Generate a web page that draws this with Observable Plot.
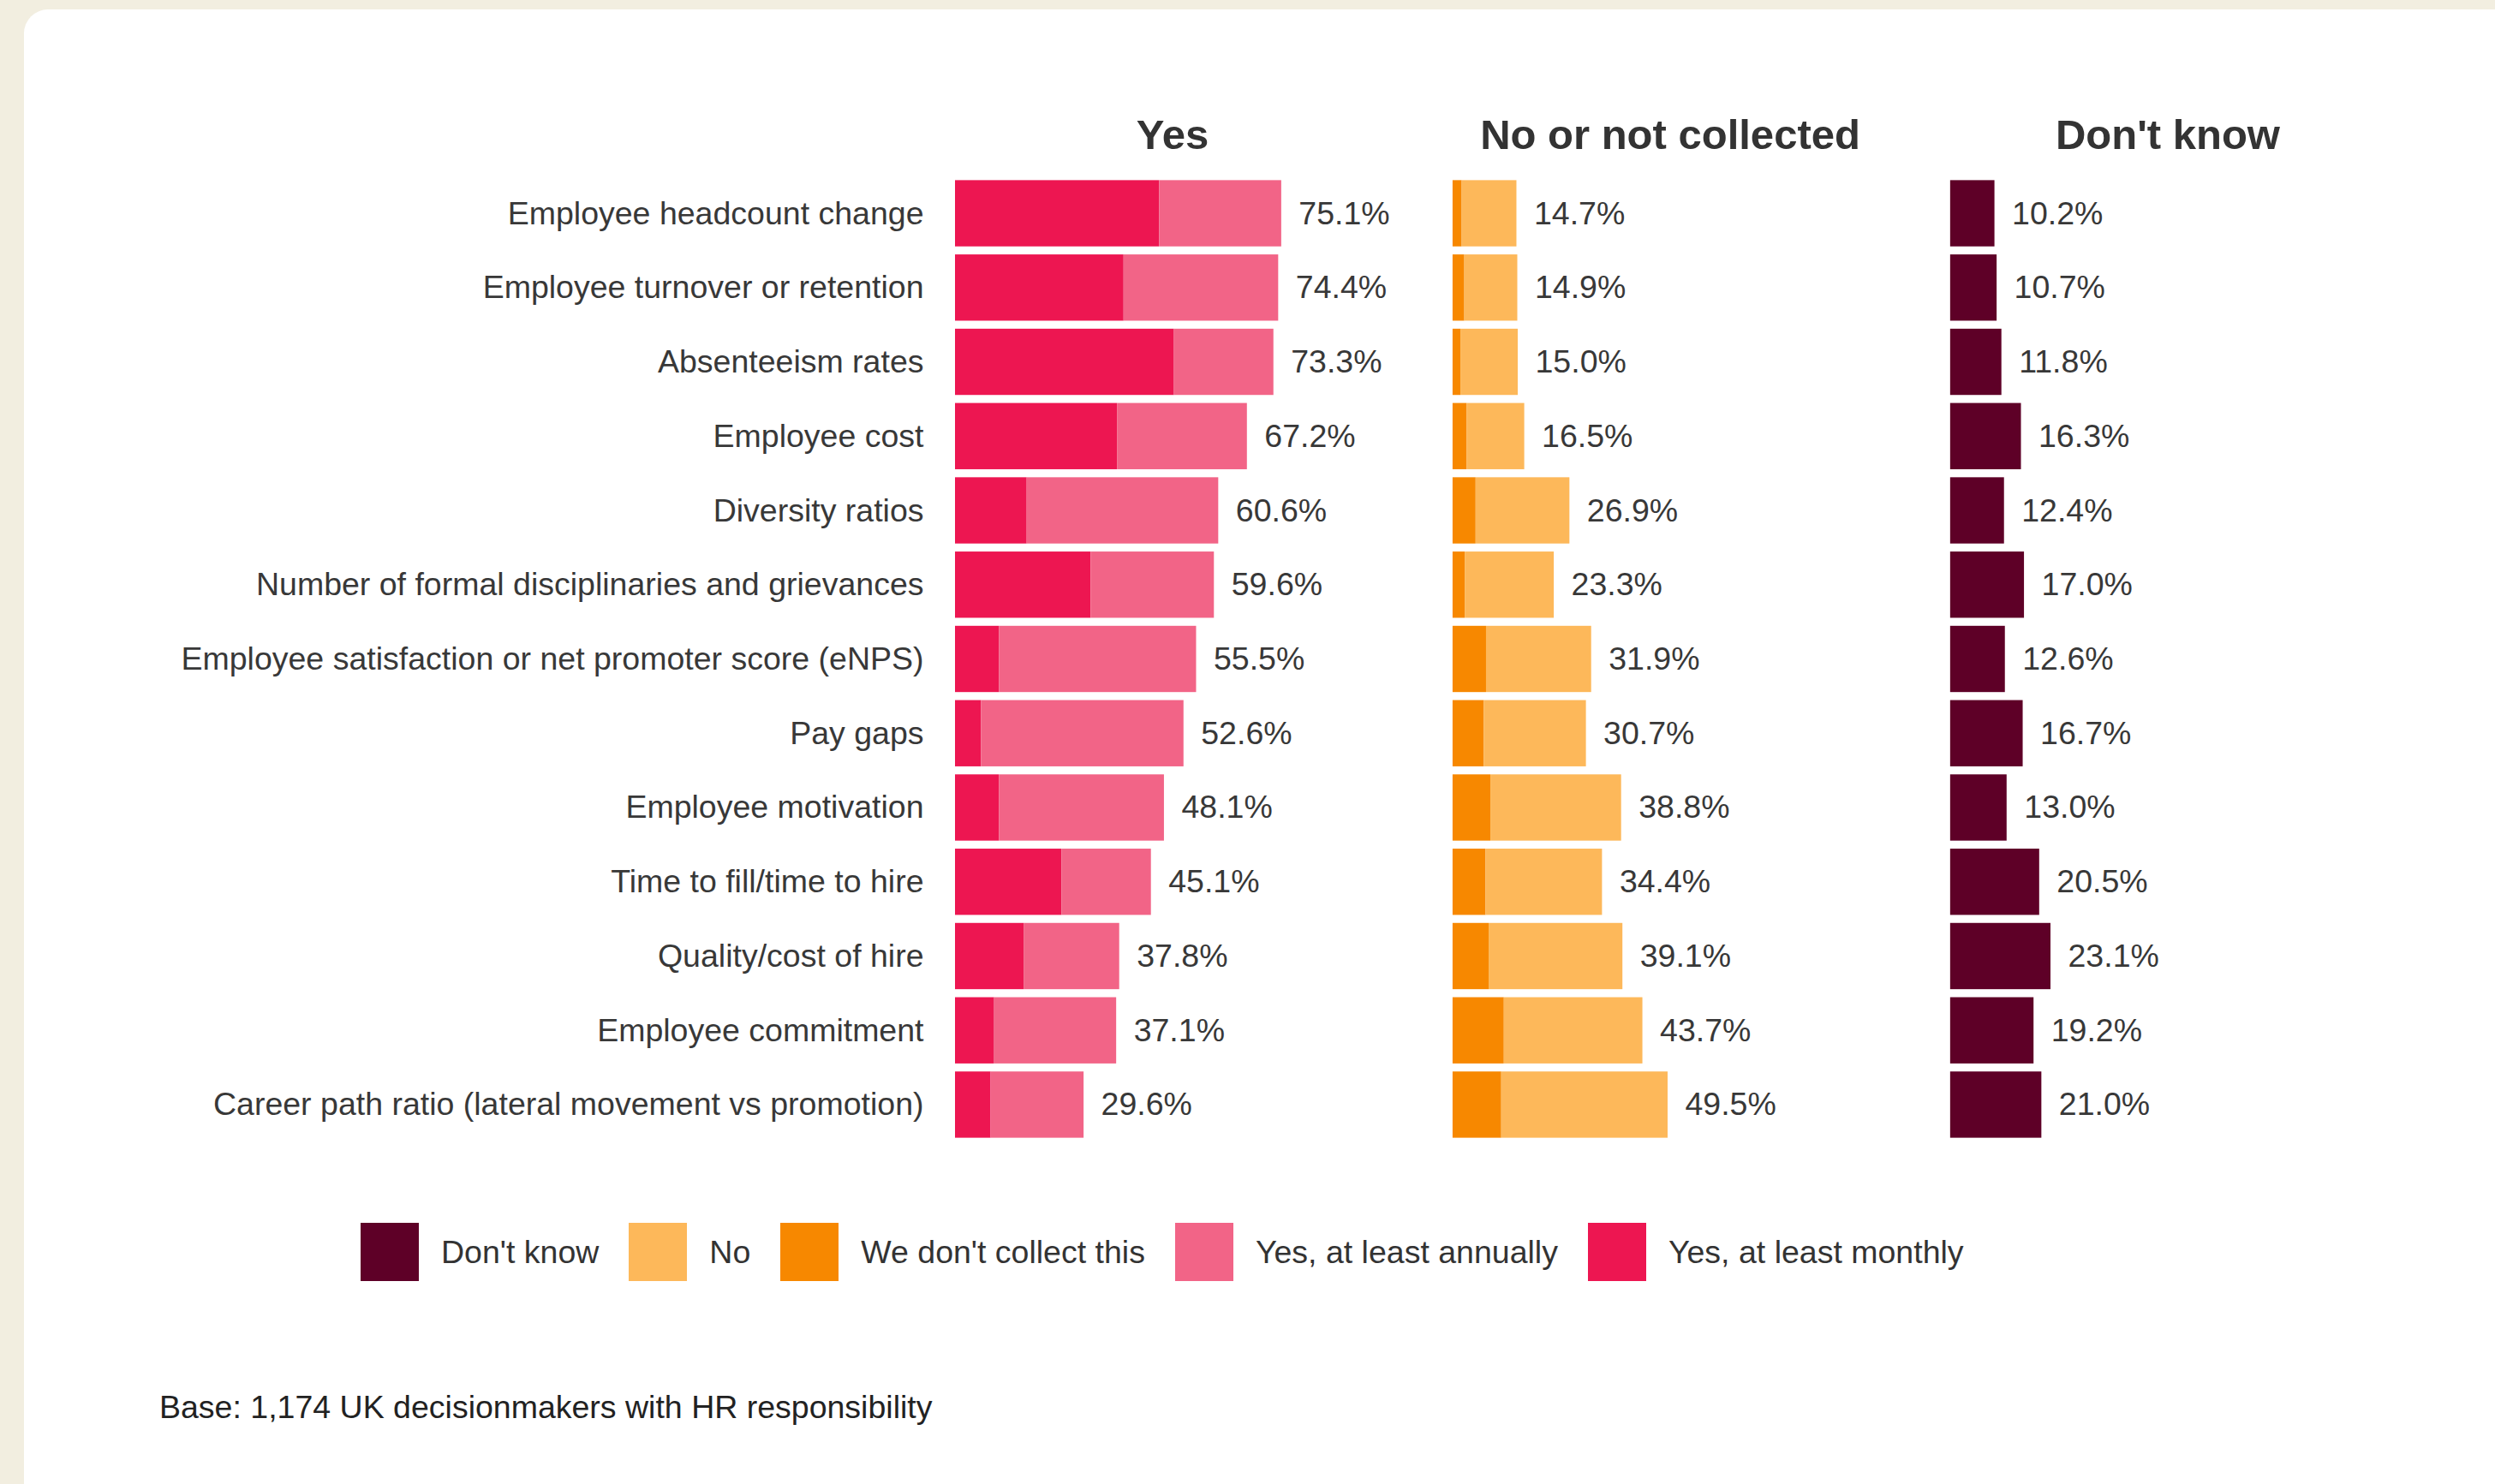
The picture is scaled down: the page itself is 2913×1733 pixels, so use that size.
<!DOCTYPE html>
<html>
<head>
<meta charset="utf-8">
<script src="https://cdn.jsdelivr.net/npm/d3@7"></script>
<script src="https://cdn.jsdelivr.net/npm/@observablehq/plot@0.6"></script>
<style>
  html, body { margin: 0; padding: 0; }
  body { width: 2913px; height: 1733px; background: #f2eee0; overflow: hidden; position: relative;
         font-family: "Liberation Sans", Arial, sans-serif; }
  #card { position: absolute; left: 28px; top: 11px; width: 2960px; height: 1800px; background: #ffffff; border-radius: 28px; }
  #wrap { position: absolute; left: 0; top: 0; width: 2913px; }
  #wrap svg { display: block; background: transparent; }
  .lg-swatches { font-family: "Liberation Sans", Arial, sans-serif; font-size: 37.5px; color: #333; margin: 0; }
  .lg-swatches-wrap { display: flex; align-items: center; }
  .lg-swatch > svg { margin-right: 26px; }
  .lg-swatches-wrap .lg-swatch { margin-right: 35px; }
  #legend { margin-left: 421px; margin-top: 58px; height: 68px; display: flex; align-items: center; }
  #caption { margin-left: 186px; margin-top: 126px; font-size: 37.5px; color: #222; line-height: 1.15; }
</style>
</head>
<body>
<div id="card"></div>
<div id="wrap">
  <div id="chart"></div>
  <div id="legend"></div>
  <div id="caption">Base: 1,174 UK decisionmakers with HR responsibility</div>
</div>
<script>
const categories = [
  "Employee headcount change",
  "Employee turnover or retention",
  "Absenteeism rates",
  "Employee cost",
  "Diversity ratios",
  "Number of formal disciplinaries and grievances",
  "Employee satisfaction or net promoter score (eNPS)",
  "Pay gaps",
  "Employee motivation",
  "Time to fill/time to hire",
  "Quality/cost of hire",
  "Employee commitment",
  "Career path ratio (lateral movement vs promotion)"
];
const panels = ["Yes", "No or not collected", "Don't know"];

// Yes panel
const yesMonthly  = [47.0, 38.8, 50.4, 37.3, 16.5, 31.2, 10.1, 6.0, 10.1, 24.5, 15.8, 9.0, 8.2];
const yesAnnually = [28.1, 35.6, 22.9, 29.9, 44.1, 28.4, 45.4, 46.6, 38.0, 20.6, 22.0, 28.1, 21.4];
const yesTotal    = [75.1, 74.4, 73.3, 67.2, 60.6, 59.6, 55.5, 52.6, 48.1, 45.1, 37.8, 37.1, 29.6];

// No or not collected panel
const notCollected = [2.1, 2.7, 1.8, 3.2, 5.3, 2.8, 7.7, 7.2, 8.7, 7.6, 8.3, 11.8, 11.2];
const noValues     = [12.6, 12.2, 13.2, 13.3, 21.6, 20.5, 24.2, 23.5, 30.1, 26.8, 30.8, 31.9, 38.3];
const noTotal      = [14.7, 14.9, 15.0, 16.5, 26.9, 23.3, 31.9, 30.7, 38.8, 34.4, 39.1, 43.7, 49.5];

// Don't know panel
const dontKnow = [10.2, 10.7, 11.8, 16.3, 12.4, 17.0, 12.6, 16.7, 13.0, 20.5, 23.1, 19.2, 21.0];

const seriesNames  = ["Don't know", "No", "We don't collect this", "Yes, at least annually", "Yes, at least monthly"];
const seriesColors = ["#5e0027", "#fdb85a", "#f78800", "#f26487", "#ed1651"];

const segments = [];
const labels = [];
categories.forEach((c, i) => {
  segments.push({category: c, panel: "Yes", series: "Yes, at least monthly", value: yesMonthly[i]});
  segments.push({category: c, panel: "Yes", series: "Yes, at least annually", value: yesAnnually[i]});
  segments.push({category: c, panel: "No or not collected", series: "We don't collect this", value: notCollected[i]});
  segments.push({category: c, panel: "No or not collected", series: "No", value: noValues[i]});
  segments.push({category: c, panel: "Don't know", series: "Don't know", value: dontKnow[i]});
  labels.push({category: c, panel: "Yes", total: yesTotal[i]});
  labels.push({category: c, panel: "No or not collected", total: noTotal[i]});
  labels.push({category: c, panel: "Don't know", total: dontKnow[i]});
});

const chart = Plot.plot({
  width: 2913,
  height: 1370,
  marginLeft: 1115,
  marginRight: 129,
  marginTop: 201,
  marginBottom: 32,
  style: {fontFamily: "Liberation Sans, Arial, sans-serif", fontSize: "37.5px", background: "transparent", color: "#383838"},
  x: {domain: [0, 100], axis: null},
  y: {domain: categories, paddingInner: 0.108, paddingOuter: 0.108, round: false, label: null},
  fx: {domain: panels, paddingInner: 0.127, paddingOuter: 0, round: false, label: null},
  color: {domain: seriesNames, range: seriesColors},
  marks: [
    Plot.axisFx({anchor: "top", tickSize: 0, tickPadding: 28, label: null, fontSize: 49, fontWeight: "bold", color: "#333"}),
    Plot.axisY({anchor: "left", tickSize: 0, tickPadding: 37, label: null, fontSize: 37.5, color: "#383838"}),
    Plot.barX(segments, Plot.stackX({x: "value", y: "category", fx: "panel", fill: "series", order: null})),
    Plot.text(labels, {x: "total", y: "category", fx: "panel", text: d => d.total.toFixed(1) + "%",
      dx: 20, textAnchor: "start", fontSize: 37.5, fill: "#383838"})
  ]
});
document.getElementById("chart").appendChild(chart);

const legend = chart.legend("color", {swatchSize: 68, className: "lg"});
document.getElementById("legend").appendChild(legend);
</script>
</body>
</html>
